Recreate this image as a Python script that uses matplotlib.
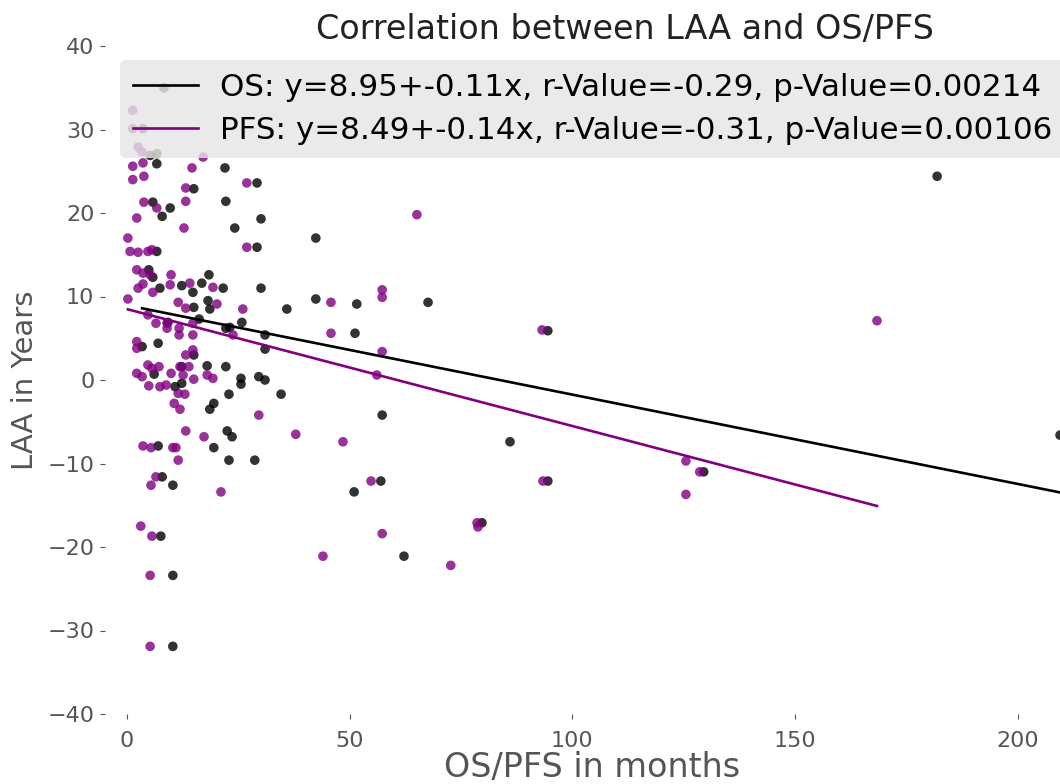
import numpy as np
import matplotlib
matplotlib.use("Agg")
import matplotlib.pyplot as plt

# ---- data ----
pfs_x = [1.3, 1.3, 2.5, 3.4, 17.1, 1.3, 3.6, 14.6, 1.3, 3.8, 26.9, 13.2, 3.8, 6.7, 2.2,
         13.2, 12.8, 0.2, 0.7, 2.5, 4.7, 5.6, 26.9, 2.2, 3.6, 5.2, 9.9, 2.5, 3.6, 5.8,
         9.7, 14.1, 19.3, 0.2, 11.5, 13.2, 20.2, 26.0, 4.7, 6.5, 9.0, 11.7, 14.8, 23.8,
         14.8, 11.7, 9.0, 2.2, 2.2, 13.2, 14.8, 11.9, 13.9, 4.7, 5.6, 7.2, 2.2, 3.4,
         9.9, 12.6, 15.0, 18.0, 19.3, 4.9, 7.4, 8.8, 11.5, 13.0, 10.6, 11.9, 29.6, 13.2,
         17.3, 37.9, 3.6, 5.4, 10.3, 11.0, 11.5, 6.5, 5.4, 21.1, 3.1, 5.6, 5.2, 5.2,
         65.1, 45.8, 57.3, 57.3, 45.8, 57.3, 56.1, 48.5, 54.8, 78.6, 78.8, 57.3, 44.0,
         72.7, 93.2, 93.4, 125.5, 125.5, 128.6, 168.4]
pfs_y = [32.3, 30.1, 27.9, 27.3, 26.7, 25.6, 26.0, 25.4, 24.0, 24.4, 23.6, 23.0, 21.3, 20.6, 19.4,
         21.4, 18.2, 17.0, 15.4, 15.3, 15.4, 15.6, 15.9, 13.2, 12.8, 12.6, 12.6, 11.0, 11.5, 10.5,
         11.4, 11.6, 11.1, 9.7, 9.3, 8.6, 9.1, 8.5, 7.8, 6.8, 6.8, 6.2, 6.8, 5.4,
         5.4, 5.4, 6.2, 4.6, 3.8, 3.0, 3.6, 1.6, 1.6, 1.8, 1.4, 1.6, 0.8, 0.4,
         0.8, 0.6, 0.1, 0.6, 0.2, -0.7, -0.8, -0.6, -1.6, -1.7, -2.8, -3.5, -4.2, -6.1,
         -6.8, -6.5, -7.9, -8.1, -8.1, -8.1, -9.6, -11.6, -12.6, -13.4, -17.5, -18.7, -23.4, -31.9,
         19.8, 9.3, 10.8, 9.9, 5.6, 3.4, 0.6, -7.4, -12.1, -17.1, -17.6, -18.4, -21.1,
         -22.2, 6.0, -12.1, -9.7, -13.7, -11.0, 7.1]

os_x = [8.3, 3.6, 5.2, 6.7, 6.7, 22.0, 29.2, 15.0, 5.8, 9.7, 7.9, 22.2, 30.1, 24.2, 6.7,
        29.2, 4.9, 5.8, 7.4, 12.3, 14.8, 16.8, 18.4, 21.6, 30.1, 15.0, 18.2, 18.6, 35.9,
        9.2, 16.2, 22.2, 23.1, 25.8, 31.0, 31.0, 3.4, 7.0, 15.0, 12.3, 6.1, 10.8, 12.3,
        18.0, 22.2, 25.6, 25.6, 29.6, 31.0, 22.9, 34.6, 19.5, 18.6, 22.5, 23.6, 7.0, 19.5,
        22.9, 28.7, 7.9, 10.3, 7.6, 10.3, 10.3, 42.4, 42.4, 51.6, 67.6, 51.2, 57.3, 86.0,
        57.0, 51.0, 79.7, 62.2, 94.5, 94.5, 129.5, 181.9, 209.5]
os_y = [35.0, 30.1, 26.9, 27.1, 25.9, 25.4, 23.6, 22.9, 21.3, 20.6, 19.6, 21.4, 19.3, 18.2, 15.4,
        15.9, 13.2, 12.3, 11.0, 11.3, 10.5, 11.6, 12.6, 11.0, 11.0, 8.7, 9.5, 8.5, 8.5,
        6.9, 7.3, 6.2, 6.3, 6.9, 5.4, 3.7, 4.0, 4.4, 3.0, 1.6, 0.7, -0.8, -0.4,
        1.7, 1.6, 0.2, -0.5, 0.4, 0.0, -1.7, -1.7, -2.8, -3.5, -6.1, -6.8, -7.9, -8.1,
        -9.6, -9.6, -11.6, -12.6, -18.7, -23.4, -31.9, 17.0, 9.7, 9.1, 9.3, 5.6, -4.2, -7.4,
        -12.1, -13.4, -17.1, -21.1, 5.9, -12.1, -11.0, 24.4, -6.6]

series_names = ["OS", "PFS"]
intercepts = [8.95, 8.49]
slopes = [-0.107, -0.14]
r_values = [-0.29, -0.31]
p_values = [0.00214, 0.00106]

x_ticks = [0, 50, 100, 150, 200]
y_ticks = [-40, -30, -20, -10, 0, 10, 20, 30, 40]

# ---- figure ----
W, H = 1060, 784
fig = plt.figure(figsize=(W / 100, H / 100), dpi=100)
left_px, right_px = 104.7, 1146
ax = fig.add_axes([left_px / W, 70 / H, (right_px - left_px) / W, 668 / H])
ax.set_xlim(-5, 228.8)
ax.set_ylim(-40, 40)

colors = ["black", "purple"]
xs = [os_x, pfs_x]
ys = [os_y, pfs_y]
line_ends = [ax.get_xlim()[1], max(pfs_x)]
for i in range(2):
    x = np.array(xs[i]); y = np.array(ys[i])
    ax.scatter(x, y, s=48, color=colors[i], alpha=0.8, edgecolors="none", zorder=2)
    lx = np.array([x.min(), line_ends[i]])
    ly = intercepts[i] + slopes[i] * lx
    label = (f"{series_names[i]}: y={intercepts[i]:.2f}+{slopes[i]:.2f}x, "
             f"r-Value={r_values[i]:.2f}, p-Value={p_values[i]:.5f}")
    ax.plot(lx, ly, color=colors[i], lw=1.9, label=label, zorder=3)

ax.set_xticks(x_ticks)
ax.set_yticks(y_ticks)
for s in ax.spines.values():
    s.set_visible(False)
ax.tick_params(axis="both", labelsize=16, colors="#555555", length=3.5, width=0.8,
               labelcolor="#555555")
ax.tick_params(axis="x", pad=9)
ax.tick_params(axis="y", pad=4)
ax.set_xlabel("OS/PFS in months", fontsize=24, color="#555555")
ax.xaxis.set_label_coords((592 - left_px) / (right_px - left_px), -0.056)
ax.set_ylabel("LAA in Years", fontsize=21, color="#555555", labelpad=6)
ax.set_title("Correlation between LAA and OS/PFS", fontsize=24, color="#222222", pad=5)

leg = ax.legend(loc="upper left", bbox_to_anchor=(0.0145, 0.979), fontsize=22.3,
                frameon=True, fancybox=True, framealpha=0.82, handlelength=2.1,
                borderpad=0.42, labelspacing=0.45, handletextpad=0.7, borderaxespad=0)
leg.get_frame().set_facecolor("#e6e6e6")
leg.get_frame().set_edgecolor("none")

fig.savefig("out.png", dpi=100)
